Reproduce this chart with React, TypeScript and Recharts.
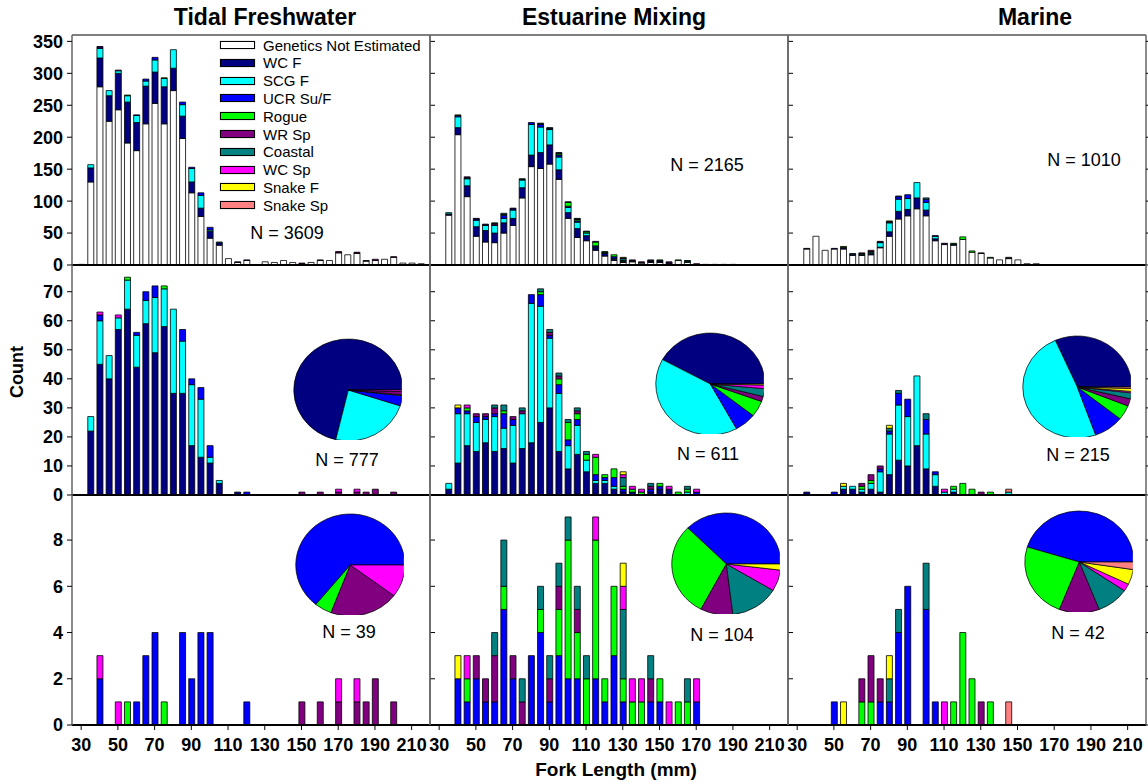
import React from 'react';
import { BarChart, Bar, XAxis, YAxis, PieChart, Pie, Cell } from 'recharts';

const FONT = '"Liberation Sans", Arial, Helvetica, sans-serif';

// 5-mm fork-length bins
const BINS = [30, 35, 40, 45, 50, 55, 60, 65, 70, 75, 80, 85, 90, 95, 100, 105, 110, 115, 120, 125, 130, 135, 140, 145, 150, 155, 160, 165, 170, 175, 180, 185, 190, 195, 200, 205, 210, 215];
const X_TICKS = [30, 50, 70, 90, 110, 130, 150, 170, 190, 210];
const X_DOMAIN: [number, number] = [25, 220];

const STOCK_KEYS = ['notEst', 'wcF', 'scgF', 'ucr', 'rogue', 'wrSp', 'coastal', 'wcSp', 'snakeF', 'snakeSp'];
const STOCK_NAMES = ['Genetics Not Estimated', 'WC F', 'SCG F', 'UCR Su/F', 'Rogue', 'WR Sp', 'Coastal', 'WC Sp', 'Snake F', 'Snake Sp'];
const STOCK_COLORS = ['#FFFFFF', '#000080', '#00FFFF', '#0000FF', '#00FF00', '#800080', '#008080', '#FF00FF', '#FFFF00', '#FF8080'];

const Y_MAX = [360, 79.2, 9.95];
const Y_TICKS = [
  [0, 50, 100, 150, 200, 250, 300, 350],
  [0, 10, 20, 30, 40, 50, 60, 70],
  [0, 2, 4, 6, 8],
];

// ---------------- Tidal Freshwater ----------------
const tfNotEst = [1, 130, 279, 225, 243, 191, 179, 221, 253, 221,
  273, 198, 113, 76, 42, 31, 10, 4, 7, 0,
  5, 4, 7, 4, 2, 4, 7, 7, 19, 16,
  18, 6, 7, 9, 12, 3, 3, 2];
const tfWcF = [0, 22, 45, 40, 57, 64, 44, 59, 49, 58,
  35, 35, 17, 13, 11, 4, 0, 1, 0, 0,
  0, 0, 0, 0, 0, 0, 0, 0, 0, 0,
  0, 0, 0, 0, 0, 0, 0, 0];
const tfScgF = [0, 5, 15, 8, 4, 10, 11, 8, 19, 13,
  29, 18, 21, 20, 2, 1, 0, 0, 0, 0,
  0, 0, 0, 0, 0, 0, 0, 0, 0, 0,
  0, 0, 0, 0, 0, 0, 0, 0];
const tfUcr = [0, 0, 2, 0, 0, 0, 1, 3, 4, 0,
  0, 4, 2, 4, 4, 0, 0, 0, 1, 0,
  0, 0, 0, 0, 0, 0, 0, 0, 0, 0,
  0, 0, 0, 0, 0, 0, 0, 0];
const tfRogue = [0, 0, 0, 0, 0, 1, 0, 0, 0, 1,
  0, 0, 0, 0, 0, 0, 0, 0, 0, 0,
  0, 0, 0, 0, 0, 0, 0, 0, 0, 0,
  0, 0, 0, 0, 0, 0, 0, 0];
const tfWrSp = [0, 0, 0, 0, 0, 0, 0, 0, 0, 0,
  0, 0, 0, 0, 0, 0, 0, 0, 0, 0,
  0, 0, 0, 0, 1, 0, 1, 0, 1, 0,
  1, 1, 2, 0, 1, 0, 0, 0];
const tfCoastal = [0, 0, 0, 0, 0, 0, 0, 0, 0, 0,
  0, 0, 0, 0, 0, 0, 0, 0, 0, 0,
  0, 0, 0, 0, 0, 0, 0, 0, 0, 0,
  0, 0, 0, 0, 0, 0, 0, 0];
const tfWcSp = [0, 0, 1, 0, 1, 0, 0, 0, 0, 0,
  0, 0, 0, 0, 0, 0, 0, 0, 0, 0,
  0, 0, 0, 0, 0, 0, 0, 0, 1, 0,
  1, 0, 0, 0, 0, 0, 0, 0];
const tfSnakeF = [0, 0, 0, 0, 0, 0, 0, 0, 0, 0,
  0, 0, 0, 0, 0, 0, 0, 0, 0, 0,
  0, 0, 0, 0, 0, 0, 0, 0, 0, 0,
  0, 0, 0, 0, 0, 0, 0, 0];
const tfSnakeSp = [0, 0, 0, 0, 0, 0, 0, 0, 0, 0,
  0, 0, 0, 0, 0, 0, 0, 0, 0, 0,
  0, 0, 0, 0, 0, 0, 0, 0, 0, 0,
  0, 0, 0, 0, 0, 0, 0, 0];

// ---------------- Estuarine Mixing ----------------
const emNotEst = [0, 78, 204, 107, 45, 36, 35, 50, 62, 105,
  154, 151, 158, 134, 73, 43, 38, 23, 14, 7,
  4, 5, 3, 4, 4, 2, 7, 4, 0, 1,
  1, 1, 1, 0, 0, 0, 0, 0];
const emWcF = [0, 2, 11, 17, 15, 18, 15, 16, 11, 16,
  18, 25, 30, 15, 9, 14, 8, 4, 4, 2,
  1, 1, 0, 1, 2, 2, 0, 0, 0, 0,
  0, 0, 0, 0, 0, 0, 0, 0];
const emScgF = [0, 2, 17, 11, 10, 8, 12, 7, 13, 12,
  48, 40, 24, 20, 8, 10, 4, 1, 1, 1,
  0, 0, 0, 0, 0, 0, 0, 1, 0, 0,
  0, 0, 0, 0, 0, 0, 0, 0];
const emUcr = [0, 0, 2, 1, 2, 1, 1, 5, 2, 0,
  3, 4, 1, 3, 2, 2, 0, 2, 1, 3,
  1, 0, 0, 1, 1, 0, 0, 0, 1, 0,
  0, 0, 0, 0, 0, 0, 0, 0];
const emRogue = [0, 0, 0, 1, 0, 0, 0, 1, 0, 0,
  0, 1, 0, 2, 6, 2, 2, 6, 1, 3,
  1, 1, 1, 0, 1, 0, 1, 1, 0, 0,
  0, 0, 0, 0, 0, 0, 0, 0];
const emWrSp = [0, 0, 0, 0, 1, 1, 2, 0, 1, 1,
  0, 0, 1, 1, 0, 1, 0, 0, 0, 0,
  0, 0, 0, 1, 0, 0, 0, 0, 0, 0,
  0, 0, 0, 0, 0, 0, 0, 0];
const emCoastal = [0, 0, 0, 0, 0, 0, 1, 2, 0, 1,
  0, 1, 1, 1, 1, 1, 1, 0, 0, 0,
  3, 0, 0, 1, 0, 0, 0, 1, 0, 0,
  0, 0, 0, 0, 0, 0, 0, 0];
const emWcSp = [0, 0, 0, 1, 0, 0, 0, 0, 0, 0,
  0, 0, 0, 0, 0, 0, 0, 1, 0, 0,
  1, 1, 1, 0, 0, 1, 0, 0, 1, 0,
  0, 0, 0, 0, 0, 0, 0, 0];
const emSnakeF = [0, 0, 1, 0, 0, 0, 0, 0, 0, 0,
  0, 0, 0, 0, 0, 0, 0, 0, 0, 0,
  1, 0, 0, 0, 0, 0, 0, 0, 0, 0,
  0, 0, 0, 0, 0, 0, 0, 0];
const emSnakeSp = [0, 0, 0, 0, 0, 0, 0, 0, 0, 0,
  0, 0, 0, 0, 0, 0, 0, 0, 0, 0,
  0, 0, 0, 0, 0, 0, 0, 0, 0, 0,
  0, 0, 0, 0, 0, 0, 0, 0];

// ---------------- Marine ----------------
const maNotEst = [0, 25, 45, 23, 25, 25, 15, 15, 16, 27,
  45, 72, 77, 88, 77, 38, 32, 31, 40, 20,
  18, 11, 8, 10, 8, 2, 2, 0, 0, 0,
  0, 0, 0, 0, 0, 0, 0, 0];
const maWcF = [0, 1, 0, 0, 0, 2, 2, 1, 2, 1,
  7, 12, 10, 17, 9, 3, 0, 1, 0, 0,
  0, 0, 0, 0, 0, 0, 0, 0, 0, 0,
  0, 0, 0, 0, 0, 0, 0, 0];
const maScgF = [0, 0, 0, 0, 0, 1, 1, 1, 2, 7,
  14, 19, 17, 24, 12, 4, 1, 1, 0, 0,
  0, 0, 0, 1, 0, 0, 0, 0, 0, 0,
  0, 0, 0, 0, 0, 0, 0, 0];
const maUcr = [0, 0, 0, 0, 1, 0, 0, 0, 0, 1,
  1, 4, 6, 0, 5, 1, 0, 0, 0, 0,
  0, 0, 0, 0, 0, 0, 0, 0, 0, 0,
  0, 0, 0, 0, 0, 0, 0, 0];
const maRogue = [0, 0, 0, 0, 0, 0, 0, 1, 1, 0,
  0, 0, 0, 0, 0, 0, 0, 1, 4, 2,
  0, 1, 0, 0, 0, 0, 0, 0, 0, 0,
  0, 0, 0, 0, 0, 0, 0, 0];
const maWrSp = [0, 0, 0, 0, 0, 0, 0, 1, 2, 1,
  0, 0, 0, 0, 0, 0, 0, 0, 0, 0,
  1, 0, 0, 0, 0, 0, 0, 0, 0, 0,
  0, 0, 0, 0, 0, 0, 0, 0];
const maCoastal = [0, 0, 0, 0, 0, 0, 0, 0, 0, 0,
  1, 1, 0, 0, 2, 0, 0, 0, 0, 0,
  0, 0, 0, 0, 0, 0, 0, 0, 0, 0,
  0, 0, 0, 0, 0, 0, 0, 0];
const maWcSp = [0, 0, 0, 0, 0, 0, 0, 0, 0, 0,
  0, 0, 0, 0, 0, 0, 1, 0, 0, 0,
  0, 0, 0, 0, 0, 0, 0, 0, 0, 0,
  0, 0, 0, 0, 0, 0, 0, 0];
const maSnakeF = [0, 0, 0, 0, 0, 1, 0, 0, 0, 0,
  1, 0, 0, 0, 0, 0, 0, 0, 0, 0,
  0, 0, 0, 0, 0, 0, 0, 0, 0, 0,
  0, 0, 0, 0, 0, 0, 0, 0];
const maSnakeSp = [0, 0, 0, 0, 0, 0, 0, 0, 0, 0,
  0, 0, 0, 0, 0, 0, 0, 0, 0, 0,
  0, 0, 0, 1, 0, 0, 0, 0, 0, 0,
  0, 0, 0, 0, 0, 0, 0, 0];

const REGION_TITLES = ['Tidal Freshwater', 'Estuarine Mixing', 'Marine'];
const N_LABELS = [
  ['N = 3609', 'N = 777', 'N = 39'],
  ['N = 2165', 'N = 611', 'N = 104'],
  ['N = 1010', 'N = 215', 'N = 42'],
];

const REGIONS: Record<string, number[]>[] = [
  { notEst: tfNotEst, wcF: tfWcF, scgF: tfScgF, ucr: tfUcr, rogue: tfRogue, wrSp: tfWrSp, coastal: tfCoastal, wcSp: tfWcSp, snakeF: tfSnakeF, snakeSp: tfSnakeSp },
  { notEst: emNotEst, wcF: emWcF, scgF: emScgF, ucr: emUcr, rogue: emRogue, wrSp: emWrSp, coastal: emCoastal, wcSp: emWcSp, snakeF: emSnakeF, snakeSp: emSnakeSp },
  { notEst: maNotEst, wcF: maWcF, scgF: maScgF, ucr: maUcr, rogue: maRogue, wrSp: maWrSp, coastal: maCoastal, wcSp: maWcSp, snakeF: maSnakeF, snakeSp: maSnakeSp },
];

// ---------------- layout ----------------
const COL_X = [72, 430, 788];
const ROW_Y = [35, 265, 495];
const PLOT_W = 358;
const PLOT_H = 230;
const TITLE_POS = [[265, 17], [614, 17], [1035, 17]];
const N_POS = [
  [[287, 233], [347, 460], [349, 632]],
  [[707, 165], [708, 454], [722, 635]],
  [[1084, 160], [1078, 455], [1078, 633]],
];
const PIE_POS = [
  [null, [343, 385], [345, 560]],
  [null, [705, 379], [721, 559]],
  [null, [1072, 382], [1074, 557]],
];

const keysForRow = (row: number) => (row === 0 ? STOCK_KEYS : row === 1 ? STOCK_KEYS.slice(1) : STOCK_KEYS.slice(3));
const colorOf = (k: string) => STOCK_COLORS[STOCK_KEYS.indexOf(k)];

const XTick = (props: any) => {
  const { x, y, payload } = props;
  return (
    <text x={x} y={y} dy={19} textAnchor="middle" fontSize={18} fontWeight="bold" fill="#000" fontFamily={FONT}>
      {payload.value}
    </text>
  );
};

function Panel({ row, col }: { row: number; col: number }) {
  const region = REGIONS[col];
  const keys = keysForRow(row);
  const data = BINS.map((x, i) => {
    const o: any = { x };
    keys.forEach((k) => (o[k] = region[k][i]));
    return o;
  });
  const LW = col === 0 ? 60 : 1;
  const RW = 10;
  const TOP = 12;
  const BH = row === 2 ? 34 : 14;
  const width = LW + PLOT_W + RW;
  const height = TOP + PLOT_H + BH;
  return (
    <div style={{ position: 'absolute', left: COL_X[col] - LW, top: ROW_Y[row] - TOP }}>
      <BarChart width={width} height={height} data={data} margin={{ top: row === 0 ? TOP - 1 : TOP, right: 0, bottom: 0, left: 0 }}>
        {row === 0 && (
          <XAxis xAxisId="t" orientation="top" type="number" dataKey="x" domain={X_DOMAIN} allowDataOverflow height={1}
            tick={false} tickLine={false} axisLine={{ stroke: '#555', strokeWidth: 1.5 }} />
        )}
        <XAxis xAxisId="b" orientation="bottom" type="number" dataKey="x" domain={X_DOMAIN} allowDataOverflow
          ticks={X_TICKS} interval={0} height={BH} tickSize={5}
          tickLine={{ stroke: '#000' }} axisLine={{ stroke: '#000', strokeWidth: 2 }}
          tick={row === 2 ? <XTick /> : false} />
        <YAxis yAxisId="l" orientation="left" type="number" domain={[0, Y_MAX[row]]} allowDataOverflow
          ticks={Y_TICKS[row]} interval={0} width={LW} tickSize={5} tickMargin={4}
          tickLine={{ stroke: '#000' }} axisLine={{ stroke: '#666', strokeWidth: 1.5 }}
          tick={col === 0 ? { fontSize: 18, fontWeight: 'bold', fill: '#000', fontFamily: FONT } : false} />
        <YAxis yAxisId="r" orientation="right" type="number" domain={[0, Y_MAX[row]]} allowDataOverflow
          ticks={Y_TICKS[row]} interval={0} width={RW} tickSize={5}
          tickLine={{ stroke: '#000' }} axisLine={{ stroke: '#666', strokeWidth: 1.5 }}
          tickFormatter={() => ''} />
        {keys.map((k) => (
          <Bar key={k} xAxisId="b" yAxisId="l" dataKey={k} stackId="s" fill={colorOf(k)} stroke="#000"
            strokeWidth={0.8} barSize={6} isAnimationActive={false} />
        ))}
      </BarChart>
    </div>
  );
}

function PieInset({ row, col }: { row: number; col: number }) {
  const pos = PIE_POS[col][row];
  if (!pos) return null;
  const region = REGIONS[col];
  const data = keysForRow(row)
    .map((k) => ({ name: k, value: region[k].reduce((a, b) => a + b, 0) }))
    .filter((d) => d.value > 0);
  return (
    <div style={{ position: 'absolute', left: pos[0] - 55, top: pos[1] - 55, transform: 'scaleX(1.07)' }}>
      <PieChart width={110} height={110}>
        <Pie data={data} dataKey="value" cx={55} cy={55} outerRadius={51} startAngle={0} endAngle={360}
          stroke="#000" strokeWidth={0.7} isAnimationActive={false} label={false} labelLine={false}>
          {data.map((d) => (
            <Cell key={d.name} fill={colorOf(d.name)} />
          ))}
        </Pie>
      </PieChart>
    </div>
  );
}

function LegendBox() {
  return (
    <div style={{ position: 'absolute', left: 220, top: 36 }}>
      {STOCK_NAMES.map((name, i) => (
        <div key={name} style={{ position: 'absolute', left: 0, top: i * 17.8, height: 18, width: 210, display: 'flex', alignItems: 'center' }}>
          <div style={{ width: 33, height: 6, background: STOCK_COLORS[i], border: '1px solid #000', boxShadow: '0 0 1px #888' }} />
          <span style={{ marginLeft: 8, fontSize: 15, fontFamily: FONT, color: '#000', whiteSpace: 'nowrap' }}>{name}</span>
        </div>
      ))}
    </div>
  );
}

const centered = (x: number, y: number, extra: React.CSSProperties): React.CSSProperties => ({
  position: 'absolute', left: x, top: y, transform: 'translate(-50%, -50%)', whiteSpace: 'nowrap', fontFamily: FONT, color: '#000', ...extra,
});

export default function App() {
  const panels = [];
  for (let r = 0; r < 3; r++) for (let c = 0; c < 3; c++) panels.push({ r, c });
  return (
    <div style={{ position: 'absolute', left: 0, top: 0, width: 1148, height: 782, background: '#fff', overflow: 'hidden' }}>
      {panels.map(({ r, c }) => <Panel key={`p${r}${c}`} row={r} col={c} />)}
      {panels.map(({ r, c }) => <PieInset key={`q${r}${c}`} row={r} col={c} />)}
      <LegendBox />
      {REGION_TITLES.map((t, i) => (
        <div key={t} style={centered(TITLE_POS[i][0], TITLE_POS[i][1], { fontSize: 23, fontWeight: 'bold' })}>{t}</div>
      ))}
      {N_LABELS.map((col, c) => col.map((txt, r) => (
        <div key={txt} style={centered(N_POS[c][r][0], N_POS[c][r][1], { fontSize: 18 })}>{txt}</div>
      )))}
      <div style={centered(17, 372, { fontSize: 18, fontWeight: 'bold', transform: 'translate(-50%, -50%) rotate(-90deg)' })}>Count</div>
      <div style={centered(616, 770, { fontSize: 19, fontWeight: 'bold' })}>Fork Length (mm)</div>
    </div>
  );
}
